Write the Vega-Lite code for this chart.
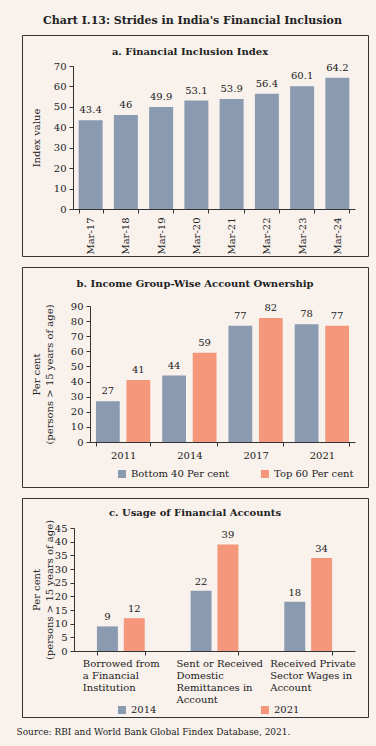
{
  "$schema": "https://vega.github.io/schema/vega-lite/v6.json",
  "background": "#f8f1ec",
  "padding": {"left": 16, "right": 14, "top": 14, "bottom": 10},
  "config": {
    "font": "DejaVu Serif",
    "view": {"stroke": "#333333", "strokeWidth": 1},
    "axis": {"domainColor": "#333333", "tickColor": "#333333", "labelColor": "#222222", "labelFontSize": 10, "titleFontSize": 10, "titleFontWeight": "normal", "titleColor": "#222222", "grid": false, "tickSize": 4, "labelPadding": 3, "titleLineHeight": 13},
    "legend": {"labelFontSize": 10, "labelColor": "#222222", "symbolType": "square", "symbolSize": 64, "symbolStrokeWidth": 0, "padding": 0},
    "title": {"fontSize": 10, "color": "#222222", "fontWeight": "bold"},
    "text": {"fontSize": 10, "color": "#222222"}
  },
  "title": {"text": "Chart I.13: Strides in India's Financial Inclusion", "fontSize": 11, "offset": 9, "anchor": "middle"},
  "vconcat": [
    {
      "spacing": 9,
      "resolve": {"scale": {"color": "independent", "xOffset": "independent"}},
      "title": {"text": "Source: RBI and World Bank Global Findex Database, 2021.", "orient": "bottom", "anchor": "start", "fontWeight": "normal", "fontSize": 9, "offset": 10},
      "vconcat": [
        {
          "width": 346,
          "height": 221,
          "title": {"text": "a. Financial Inclusion Index", "offset": -22, "anchor": "middle", "dx": -5},
          "data": {"values": [
            {"period": "Mar-17", "value": 43.4},
            {"period": "Mar-18", "value": 46},
            {"period": "Mar-19", "value": 49.9},
            {"period": "Mar-20", "value": 53.1},
            {"period": "Mar-21", "value": 53.9},
            {"period": "Mar-22", "value": 56.4},
            {"period": "Mar-23", "value": 60.1},
            {"period": "Mar-24", "value": 64.2}
          ]},
          "encoding": {
            "x": {"field": "period", "type": "nominal", "sort": null,
              "scale": {"range": [51, 333], "paddingInner": 0.32, "paddingOuter": 0.16},
              "axis": {"title": null, "labelAngle": -90, "offset": -47, "tickBand": "extent", "labelPadding": 4}},
            "y": {"field": "value", "type": "quantitative",
              "scale": {"domain": [0, 70], "range": [174, 31], "nice": false},
              "axis": {"title": "Index value", "offset": -51, "values": [0, 10, 20, 30, 40, 50, 60, 70], "titlePadding": 12}}
          },
          "layer": [
            {"mark": {"type": "bar", "color": "#8a9bb1"}},
            {"mark": {"type": "text", "dy": -10}, "encoding": {"text": {"field": "value", "type": "nominal"}}}
          ]
        },
        {
          "width": 346,
          "height": 220,
          "title": {"text": "b. Income Group-Wise Account Ownership", "offset": -22, "anchor": "middle"},
          "data": {"values": [
            {"year": "2011", "group": "Bottom 40 Per cent", "value": 27},
            {"year": "2011", "group": "Top 60 Per cent", "value": 41},
            {"year": "2014", "group": "Bottom 40 Per cent", "value": 44},
            {"year": "2014", "group": "Top 60 Per cent", "value": 59},
            {"year": "2017", "group": "Bottom 40 Per cent", "value": 77},
            {"year": "2017", "group": "Top 60 Per cent", "value": 82},
            {"year": "2021", "group": "Bottom 40 Per cent", "value": 78},
            {"year": "2021", "group": "Top 60 Per cent", "value": 77}
          ]},
          "encoding": {
            "x": {"field": "year", "type": "nominal", "sort": null,
              "scale": {"range": [68, 333], "paddingInner": 0.18, "paddingOuter": 0.09},
              "axis": {"title": null, "labelAngle": 0, "offset": -45, "tickBand": "extent", "labelPadding": 4}},
            "xOffset": {"field": "group", "type": "nominal", "scale": {"range": [0, 54.3], "paddingInner": 0.22, "paddingOuter": 0}},
            "y": {"field": "value", "type": "quantitative",
              "scale": {"domain": [0, 90], "range": [175, 39], "nice": false},
              "axis": {"title": ["Per cent", "(persons > 15 years of age)"], "offset": -68, "values": [0, 10, 20, 30, 40, 50, 60, 70, 80, 90], "titlePadding": 16}}
          },
          "layer": [
            {"mark": {"type": "bar"},
             "encoding": {"color": {"field": "group", "type": "nominal",
               "scale": {"domain": ["Bottom 40 Per cent", "Top 60 Per cent"], "range": ["#8a9bb1", "#f4977b"]},
               "legend": {"title": null, "orient": "none", "legendX": 95, "legendY": 202, "direction": "horizontal", "columnPadding": 30}}}},
            {"mark": {"type": "text", "dy": -10}, "encoding": {"text": {"field": "value", "type": "nominal"}}}
          ]
        },
        {
          "width": 346,
          "height": 219,
          "title": {"text": "c. Usage of Financial Accounts", "offset": -20, "anchor": "middle"},
          "data": {"values": [
            {"category": "Borrowed from a Financial Institution", "year": "2014", "value": 9},
            {"category": "Borrowed from a Financial Institution", "year": "2021", "value": 12},
            {"category": "Sent or Received Domestic Remittances in Account", "year": "2014", "value": 22},
            {"category": "Sent or Received Domestic Remittances in Account", "year": "2021", "value": 39},
            {"category": "Received Private Sector Wages in Account", "year": "2014", "value": 18},
            {"category": "Received Private Sector Wages in Account", "year": "2021", "value": 34}
          ]},
          "encoding": {
            "x": {"field": "category", "type": "nominal", "sort": null,
              "scale": {"range": [52, 333], "paddingInner": 0.49, "paddingOuter": 0.245},
              "axis": {"title": null, "labelAngle": 0, "offset": -66, "tickBand": "extent", "labelPadding": 3,
                "labelAlign": "left", "labelBaseline": "top", "labelOffset": -38.5, "labelLineHeight": 12, "labelLimit": 0,
                "labelExpr": "datum.value == 'Borrowed from a Financial Institution' ? ['Borrowed from', 'a Financial', 'Institution'] : datum.value == 'Sent or Received Domestic Remittances in Account' ? ['Sent or Received', 'Domestic', 'Remittances in', 'Account'] : datum.value == 'Received Private Sector Wages in Account' ? ['Received Private', 'Sector Wages in', 'Account'] : ''"}},
            "xOffset": {"field": "year", "type": "nominal", "scale": {"range": [0, 47.8], "paddingInner": 0.22, "paddingOuter": 0}},
            "y": {"field": "value", "type": "quantitative",
              "scale": {"domain": [0, 45], "range": [153, 30], "nice": false},
              "axis": {"title": ["Per cent", "(persons > 15 years of age)"], "offset": -52, "values": [0, 5, 10, 15, 20, 25, 30, 35, 40, 45], "titlePadding": 0}}
          },
          "layer": [
            {"mark": {"type": "bar"},
             "encoding": {"color": {"field": "year", "type": "nominal",
               "scale": {"domain": ["2014", "2021"], "range": ["#8a9bb1", "#f4977b"]},
               "legend": {"title": null, "orient": "none", "legendX": 95, "legendY": 207, "direction": "horizontal", "columnPadding": 103}}}},
            {"mark": {"type": "text", "dy": -9}, "encoding": {"text": {"field": "value", "type": "nominal"}}}
          ]
        }
      ]
    }
  ]
}
